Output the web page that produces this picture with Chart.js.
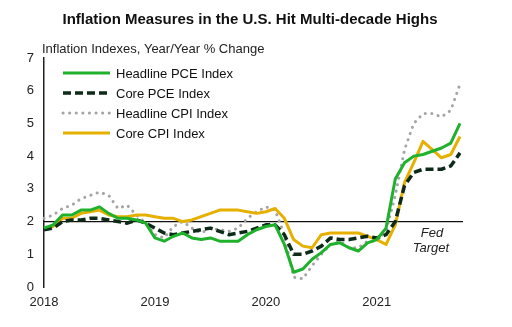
<!DOCTYPE html>
<html>
<head>
<meta charset="utf-8">
<script src="https://cdn.jsdelivr.net/npm/chart.js@4"></script>
<style>
  html, body { margin: 0; padding: 0; background: #fff; }
  #wrap { width: 512px; height: 327px; position: relative; }
</style>
</head>
<body>
<div id="wrap"><canvas id="chart" width="512" height="327"></canvas></div>
<script>
// Monthly, Jan 2018 - Oct 2021
const years = ['2018', '2019', '2020', '2021'];
const monthLabels = [];
years.forEach(y => {
    for (let m = 1; m <= 12; m++) {
        if (y === '2021' && m > 10) break;
        monthLabels.push(`${y}-${String(m).padStart(2, '0')}`);
    }
});

const headlinePCE = [
    1.8, 1.9, 2.2, 2.2, 2.35, 2.35, 2.45, 2.25, 2.1, 2.1, 2.05, 1.95,
    1.5, 1.4, 1.55, 1.65, 1.5, 1.45, 1.5, 1.4, 1.4, 1.4, 1.6, 1.75,
    1.85, 1.9, 1.3, 0.45, 0.55, 0.85, 1.05, 1.3, 1.35, 1.2, 1.1, 1.35,
    1.45, 1.8, 3.3, 3.8, 4.0, 4.05, 4.15, 4.25, 4.4, 5.0
];
const corePCE = [
    1.75, 1.8, 2.0, 2.05, 2.05, 2.1, 2.1, 2.05, 2.0, 1.95, 2.05, 1.95,
    1.8, 1.65, 1.6, 1.65, 1.7, 1.75, 1.8, 1.7, 1.6, 1.65, 1.7, 1.8,
    1.9, 1.9, 1.6, 1.0, 1.0, 1.1, 1.25, 1.5, 1.45, 1.45, 1.5, 1.55,
    1.5, 1.6, 2.0, 3.1, 3.5, 3.6, 3.6, 3.6, 3.7, 4.1
];
const headlineCPI = [
    2.1, 2.2, 2.4, 2.5, 2.7, 2.8, 2.9, 2.8, 2.4, 2.5, 2.2, 1.95,
    1.6, 1.5, 1.85, 2.0, 1.8, 1.65, 1.8, 1.75, 1.7, 1.8, 2.1, 2.3,
    2.45, 2.35, 1.6, 0.3, 0.25, 0.65, 1.0, 1.3, 1.4, 1.2, 1.2, 1.4,
    1.4, 1.7, 2.8, 4.2, 5.0, 5.3, 5.3, 5.2, 5.4, 6.2
];
const coreCPI = [
    1.8, 1.85, 2.1, 2.1, 2.25, 2.3, 2.35, 2.2, 2.15, 2.15, 2.2, 2.2,
    2.15, 2.1, 2.1, 2.0, 2.05, 2.15, 2.25, 2.35, 2.35, 2.35, 2.3, 2.25,
    2.3, 2.4, 2.1, 1.45, 1.25, 1.2, 1.6, 1.65, 1.65, 1.65, 1.65, 1.55,
    1.45, 1.3, 1.9, 3.2, 3.8, 4.45, 4.2, 3.95, 4.05, 4.6
];
const yTicks = [0, 1, 2, 3, 4, 5, 6, 7];
const fedTarget = 2;

const titleText = 'Inflation Measures in the U.S. Hit Multi-decade Highs';
const subtitleText = 'Inflation Indexes, Year/Year % Change';

const FONT = '"Liberation Sans", Arial, sans-serif';

// Title, subtitle, Fed target line and the in-plot legend
const extrasPlugin = {
    id: 'extras',
    beforeDatasetsDraw(chart) {
        const { ctx, chartArea, scales } = chart;
        const y = scales.y.getPixelForValue(fedTarget);
        ctx.save();
        ctx.strokeStyle = '#111';
        ctx.lineWidth = 1.2;
        ctx.beginPath();
        ctx.moveTo(chartArea.left, y);
        ctx.lineTo(chartArea.right + 3, y);
        ctx.stroke();
        ctx.restore();
    },
    afterDraw(chart) {
        const { ctx, scales } = chart;
        ctx.save();
        ctx.fillStyle = '#111';
        ctx.font = `bold 15px ${FONT}`;
        ctx.textAlign = 'center';
        ctx.textBaseline = 'alphabetic';
        ctx.fillText(titleText, 250, 24);

        ctx.font = `13px ${FONT}`;
        ctx.textAlign = 'left';
        ctx.fillStyle = '#222';
        ctx.fillText(subtitleText, 42, 53);

        // Fed target note
        const y = scales.y.getPixelForValue(fedTarget);
        ctx.font = `italic 13px ${FONT}`;
        ctx.textAlign = 'center';
        ctx.fillText('Fed', 432, y + 15);
        ctx.fillText('Target', 431, y + 30);

        // legend
        ctx.font = `13px ${FONT}`;
        ctx.textAlign = 'left';
        ctx.textBaseline = 'middle';
        chart.data.datasets.forEach((ds, i) => {
            const ly = 73 + i * 20;
            ctx.save();
            ctx.strokeStyle = ds.borderColor;
            ctx.lineWidth = ds.borderWidth;
            ctx.lineCap = ds.borderCapStyle || 'butt';
            ctx.setLineDash(ds.borderDash || []);
            ctx.beginPath();
            ctx.moveTo(63, ly);
            ctx.lineTo(110, ly);
            ctx.stroke();
            ctx.restore();
            ctx.fillStyle = '#111';
            ctx.fillText(ds.label, 116, ly + 1);
        });
        ctx.restore();
    }
};

new Chart(document.getElementById('chart'), {
    type: 'line',
    data: {
        labels: monthLabels,
        datasets: [
            {
                label: 'Headline PCE Index',
                data: headlinePCE,
                borderColor: '#1fb02c',
                borderWidth: 3,
                order: 1
            },
            {
                label: 'Core PCE Index',
                data: corePCE,
                borderColor: '#0e2a19',
                borderWidth: 3.5,
                borderDash: [8, 4],
                order: 2
            },
            {
                label: 'Headline CPI Index',
                data: headlineCPI,
                borderColor: '#a4a4a4',
                borderWidth: 3,
                borderDash: [0.1, 6.5],
                borderCapStyle: 'round',
                order: 4
            },
            {
                label: 'Core CPI Index',
                data: coreCPI,
                borderColor: '#e6b000',
                borderWidth: 3,
                order: 3
            }
        ]
    },
    options: {
        responsive: false,
        animation: false,
        devicePixelRatio: 1,
        layout: { padding: { top: 58, left: 0, right: 52, bottom: 0 } },
        elements: {
            point: { radius: 0 },
            line: { tension: 0, borderJoinStyle: 'round' }
        },
        plugins: {
            legend: { display: false },
            tooltip: { enabled: false }
        },
        scales: {
            x: {
                type: 'category',
                offset: false,
                grid: { display: false, drawTicks: false },
                border: { display: false },
                afterFit: (scale) => { scale.height = 40; },
                ticks: {
                    autoSkip: false,
                    maxRotation: 0,
                    padding: 8,
                    color: '#222',
                    font: { family: FONT, size: 13 },
                    callback: function(value) {
                        const lab = this.getLabelForValue(value);
                        return lab.endsWith('-01') ? lab.slice(0, 4) : null;
                    }
                }
            },
            y: {
                min: 0,
                max: 7,
                afterFit: (scale) => { scale.width = 44; },
                afterBuildTicks: (scale) => {
                    scale.ticks = yTicks.map(v => ({ value: v }));
                },
                grid: { display: false, drawTicks: false },
                border: { display: true, color: '#222', width: 1.5 },
                ticks: {
                    padding: 10,
                    color: '#222',
                    font: { family: FONT, size: 13 }
                }
            }
        }
    },
    plugins: [extrasPlugin]
});
</script>
</body>
</html>
